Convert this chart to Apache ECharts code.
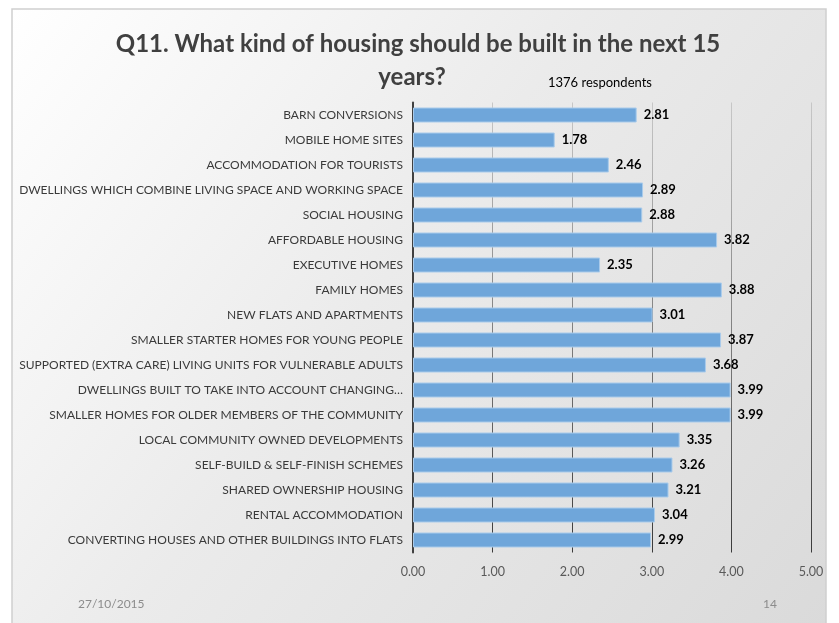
<!DOCTYPE html>
<html>
<head>
<meta charset="utf-8">
<script src="https://cdn.jsdelivr.net/npm/echarts@6/dist/echarts.min.js"></script>
<style>
  html, body { margin: 0; padding: 0; background: #ffffff; }
  #chart { width: 839px; height: 623px; }
</style>
</head>
<body>
<div id="chart"></div>
<script>
// Survey answers, listed top to bottom as drawn
const categories = [
  'BARN CONVERSIONS',
  'MOBILE HOME SITES',
  'ACCOMMODATION FOR TOURISTS',
  'DWELLINGS WHICH COMBINE LIVING SPACE AND WORKING SPACE',
  'SOCIAL HOUSING',
  'AFFORDABLE HOUSING',
  'EXECUTIVE HOMES',
  'FAMILY HOMES',
  'NEW FLATS AND APARTMENTS',
  'SMALLER STARTER HOMES FOR YOUNG PEOPLE',
  'SUPPORTED (EXTRA CARE) LIVING UNITS FOR VULNERABLE ADULTS',
  'DWELLINGS BUILT TO TAKE INTO ACCOUNT CHANGING…',
  'SMALLER HOMES FOR OLDER MEMBERS OF THE COMMUNITY',
  'LOCAL COMMUNITY OWNED DEVELOPMENTS',
  'SELF-BUILD & SELF-FINISH SCHEMES',
  'SHARED OWNERSHIP HOUSING',
  'RENTAL ACCOMMODATION',
  'CONVERTING HOUSES AND OTHER BUILDINGS INTO FLATS'
];
const averageScores = [2.81, 1.78, 2.46, 2.89, 2.88, 3.82, 2.35, 3.88, 3.01, 3.87, 3.68, 3.99, 3.99, 3.35, 3.26, 3.21, 3.04, 2.99];
const xTicks = [0, 1, 2, 3, 4, 5];

const titleLines = ['Q11. What kind of housing should be built in the next 15', 'years?'];
const subtitle = '1376 respondents';
const footerDate = '27/10/2015';
const pageNumber = '14';

const chart = echarts.init(document.getElementById('chart'), null, { renderer: 'canvas' });

const font = 'Lato, "Open Sans", "Liberation Sans", sans-serif';

chart.setOption({
  animation: false,
  textStyle: { fontFamily: font },
  graphic: [
    {
      type: 'rect',
      z: -10,
      shape: { x: 12, y: 9, width: 814, height: 620 },
      style: {
        fill: new echarts.graphic.LinearGradient(0, 0, 1, 1, [
          { offset: 0, color: '#ffffff' },
          { offset: 0.45, color: '#ebebeb' },
          { offset: 1, color: '#dadada' }
        ]),
        stroke: '#cfcfcf',
        lineWidth: 1.5
      }
    },
    {
      type: 'text', z: 10,
      style: {
        text: titleLines[0], x: 418, y: 32, font: 'bold 24px ' + font, fill: '#404040', align: 'center'
      }
    },
    {
      type: 'text', z: 10,
      style: {
        text: titleLines[1], x: 412, y: 65, font: 'bold 24px ' + font, fill: '#404040', align: 'center'
      }
    },
    {
      type: 'text', z: 10,
      style: { text: subtitle, x: 548, y: 76, font: '13px ' + font, fill: '#000000' }
    },
    {
      type: 'text', z: 10,
      style: { text: footerDate, x: 78, y: 598, font: '12px ' + font, fill: '#8c8c8c' }
    },
    {
      type: 'text', z: 10,
      style: { text: pageNumber, x: 763, y: 598, font: '12px ' + font, fill: '#8c8c8c' }
    }
  ],
  grid: { left: 413, width: 398, top: 102.5, height: 450, containLabel: false },
  xAxis: {
    type: 'value',
    min: xTicks[0],
    max: xTicks[xTicks.length - 1],
    interval: 1,
    axisLine: { show: false },
    axisTick: { show: false },
    axisLabel: {
      formatter: v => v.toFixed(2),
      color: '#595959',
      fontSize: 12.5,
      margin: 13
    },
    splitLine: {
      show: true,
      lineStyle: {
        color: new echarts.graphic.LinearGradient(0, 0, 0, 1, [
          { offset: 0, color: '#c8c8c8' },
          { offset: 1, color: '#3a3a3a' }
        ]),
        width: 1
      }
    }
  },
  yAxis: {
    type: 'category',
    data: categories,
    inverse: true,
    axisLine: { show: true, lineStyle: { color: '#404040', width: 2 } },
    axisTick: { show: false },
    axisLabel: { color: '#3a3a3a', fontSize: 12, margin: 10 }
  },
  series: [{
    type: 'bar',
    data: averageScores,
    barWidth: 15,
    itemStyle: {
      color: '#6fa6da',
      borderColor: '#a9cbeb',
      borderWidth: 1
    },
    label: {
      show: true,
      position: 'right',
      distance: 7,
      formatter: p => p.value.toFixed(2),
      color: '#000000',
      fontWeight: 'bold',
      fontSize: 13
    }
  }]
});
</script>
</body>
</html>
